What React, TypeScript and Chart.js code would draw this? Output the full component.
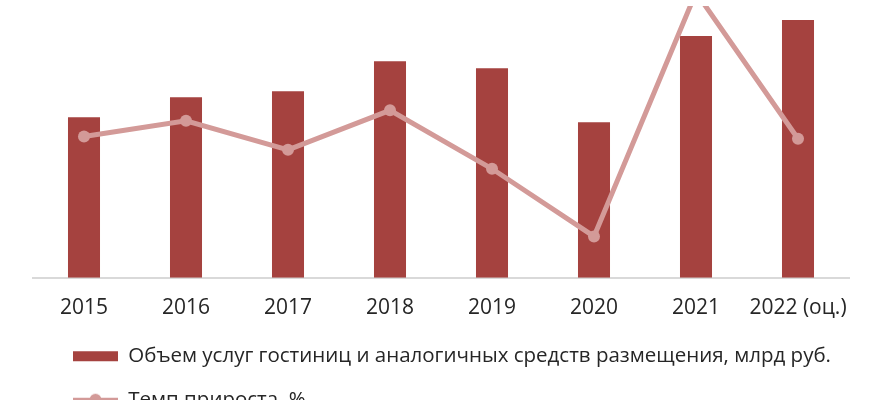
import { useEffect, useRef } from "react";
import { Chart, registerables } from "chart.js";

Chart.register(...registerables);

// Categories and series
const years = ["2015", "2016", "2017", "2018", "2019", "2020", "2021", "2022 (оц.)"];
const volume = [160, 180, 186, 216, 209, 155, 241, 257]; // млрд руб.
const growth = [7.4, 12.4, 3.2, 15.7, -2.8, -24.2, 53, 6.7]; // %

const volumeLabel = "Объем услуг гостиниц и аналогичных средств размещения, млрд руб.";
const growthLabel = "Темп прироста, %";

const BAR_COLOR = "#a5423f";
const LINE_COLOR = "#d39a98";
const TEXT_COLOR = "#262626";
const AXIS_COLOR = "#d9d9d9";
const FONT = "'Open Sans', 'DejaVu Sans', sans-serif";

// Legend icon for the line series: a short stroke with a round marker
function makeLineIcon(): HTMLCanvasElement {
  const c = document.createElement("canvas");
  c.width = 45;
  c.height = 14;
  const g = c.getContext("2d")!;
  g.strokeStyle = LINE_COLOR;
  g.lineWidth = 4;
  g.beginPath();
  g.moveTo(0, 7);
  g.lineTo(45, 7);
  g.stroke();
  g.fillStyle = LINE_COLOR;
  g.beginPath();
  g.arc(22.5, 7, 6, 0, Math.PI * 2);
  g.fill();
  return c;
}

// Places the stacked legend under the axis labels
const legendPlacement = {
  id: "legendPlacement",
  afterLayout(chart: any) {
    if (chart.legend) {
      chart.legend.left = 50;
      chart.legend.top = 323;
    }
  },
};

export default function App() {
  const canvasRef = useRef<HTMLCanvasElement | null>(null);

  useEffect(() => {
    if (!canvasRef.current) return;
    const lineIcon = makeLineIcon();

    const chart = new Chart(canvasRef.current, {
      type: "bar",
      data: {
        labels: years,
        datasets: [
          {
            type: "bar",
            label: volumeLabel,
            data: volume,
            backgroundColor: BAR_COLOR,
            borderWidth: 0,
            barPercentage: 0.314,
            categoryPercentage: 1,
            yAxisID: "y",
            order: 1,
          },
          {
            type: "line",
            label: growthLabel,
            data: growth,
            borderColor: LINE_COLOR,
            backgroundColor: LINE_COLOR,
            borderWidth: 5,
            pointRadius: 6,
            pointBackgroundColor: LINE_COLOR,
            pointBorderColor: LINE_COLOR,
            pointBorderWidth: 0,
            tension: 0,
            yAxisID: "y1",
            order: 0,
          },
        ],
      },
      options: {
        responsive: true,
        maintainAspectRatio: false,
        animation: false,
        events: [],
        layout: { padding: { left: 33, right: 21, top: 0, bottom: 0 } },
        scales: {
          x: {
            offset: true,
            grid: { display: false, drawTicks: false },
            border: { display: true, color: AXIS_COLOR, width: 2 },
            ticks: {
              color: TEXT_COLOR,
              font: { family: FONT, size: 21 },
              padding: 18,
              maxRotation: 0,
              autoSkip: false,
            },
          },
          y: { display: false, min: 0, max: 271 },
          y1: { display: false, min: -37.3, max: 48.7 },
        },
        plugins: {
          tooltip: { enabled: false },
          legend: {
            position: "bottom",
            align: "start",
            maxHeight: 61,
            labels: {
              usePointStyle: true,
              pointStyleWidth: 45,
              boxHeight: 10,
              padding: 23,
              color: TEXT_COLOR,
              font: { family: FONT, size: 20.5 },
              generateLabels: (c: any) =>
                c.data.datasets.map((ds: any, i: number) => ({
                  text: ds.label,
                  fillStyle: i === 0 ? BAR_COLOR : LINE_COLOR,
                  strokeStyle: i === 0 ? BAR_COLOR : LINE_COLOR,
                  lineWidth: 0,
                  pointStyle: i === 0 ? "rect" : lineIcon,
                  fontColor: TEXT_COLOR,
                  hidden: false,
                  datasetIndex: i,
                })),
            },
          },
        },
      },
      plugins: [legendPlacement],
    });

    return () => chart.destroy();
  }, []);

  return (
    <div
      style={{
        position: "fixed",
        left: 0,
        top: 0,
        width: 870,
        height: 400,
        background: "#ffffff",
      }}
    >
      <canvas ref={canvasRef} />
    </div>
  );
}
